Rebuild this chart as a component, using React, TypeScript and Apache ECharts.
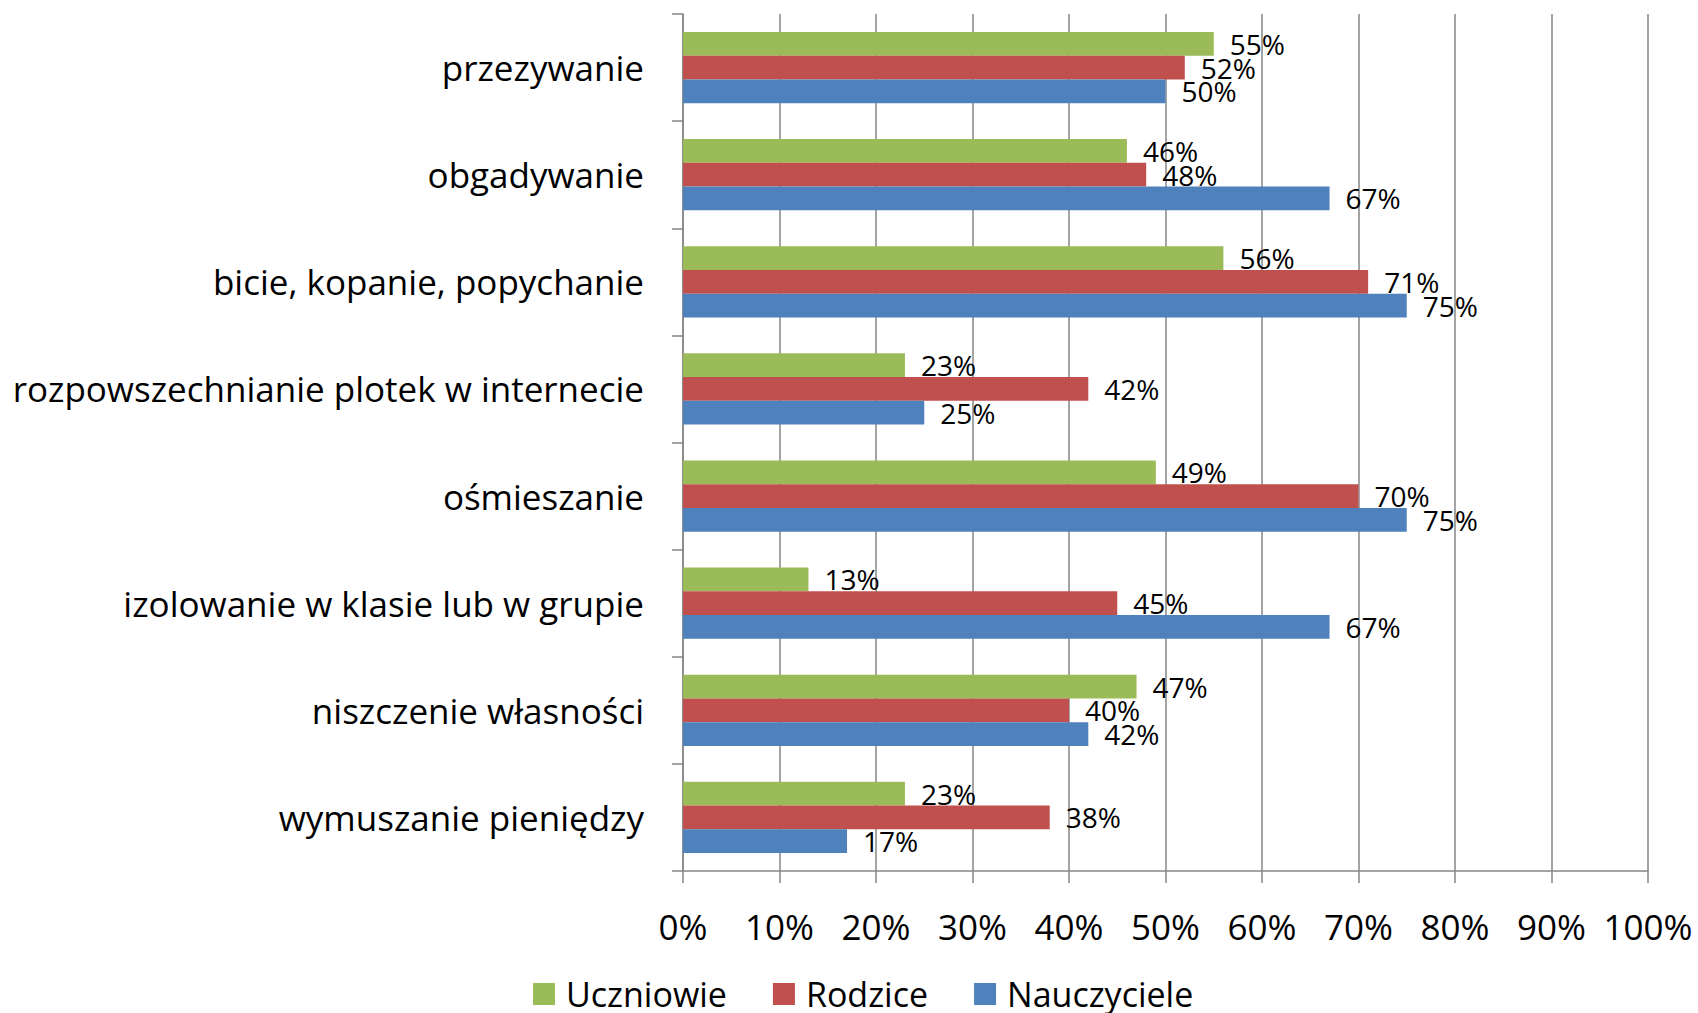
import React, { useEffect, useRef } from "react";
import * as echarts from "echarts";

const categories = [
  "przezywanie",
  "obgadywanie",
  "bicie, kopanie, popychanie",
  "rozpowszechnianie plotek w internecie",
  "ośmieszanie",
  "izolowanie w klasie lub w grupie",
  "niszczenie własności",
  "wymuszanie pieniędzy",
];
const uczniowie = [55, 46, 56, 23, 49, 13, 47, 23];
const rodzice = [52, 48, 71, 42, 70, 45, 40, 38];
const nauczyciele = [50, 67, 75, 25, 75, 67, 42, 17];
const seriesNames = ["Uczniowie", "Rodzice", "Nauczyciele"];
const colors = ["#9BBB59", "#C0504D", "#4F81BD"];

const FONT = "'Open Sans', 'Noto Sans', sans-serif";
const GRAY = "#868686";

export default function App() {
  const ref = useRef<HTMLDivElement>(null);
  useEffect(() => {
    document.body.style.margin = "0";
    const chart = echarts.init(ref.current!, undefined, { renderer: "svg" });
    const data = [uczniowie, rodzice, nauczyciele];
    chart.setOption({
      animation: false,
      backgroundColor: "#ffffff",
      textStyle: { fontFamily: FONT },
      grid: { left: 683, right: 50, top: 14, bottom: 142, containLabel: false },
      legend: {
        top: 976,
        left: 533,
        padding: 0,
        itemWidth: 22,
        itemHeight: 22,
        itemGap: 46,
        icon: "rect",
        textStyle: {
          fontSize: 34,
          lineHeight: 36,
          color: "#000",
          fontFamily: FONT,
          padding: [0, 0, 0, 6],
        },
        data: seriesNames,
      },
      xAxis: {
        type: "value",
        min: 0,
        max: 100,
        interval: 10,
        axisLine: { show: true, lineStyle: { color: GRAY, width: 1.5 } },
        axisTick: { show: true, length: 12, lineStyle: { color: GRAY, width: 1.5 } },
        splitLine: { show: true, lineStyle: { color: GRAY, width: 1.5 } },
        axisLabel: {
          formatter: "{value}%",
          fontSize: 35,
          color: "#000",
          fontFamily: FONT,
          margin: 38,
        },
      },
      yAxis: {
        type: "category",
        inverse: true,
        data: categories,
        axisLine: { show: true, lineStyle: { color: GRAY, width: 1.5 } },
        axisTick: { show: true, length: 11, lineStyle: { color: GRAY, width: 1.5 } },
        axisLabel: { fontSize: 35, color: "#000", fontFamily: FONT, margin: 39 },
      },
      series: seriesNames.map((name, i) => ({
        name,
        type: "bar",
        data: data[i],
        barGap: "0%",
        barCategoryGap: "33.6%",
        itemStyle: { color: colors[i] },
        label: {
          show: true,
          position: "right",
          distance: 16,
          formatter: "{c}%",
          fontSize: 28,
          color: "#000",
          fontFamily: FONT,
        },
      })),
    });
    return () => chart.dispose();
  }, []);
  return (
    <div
      ref={ref}
      style={{ position: "absolute", left: 0, top: 0, width: 1698, height: 1013 }}
    />
  );
}
